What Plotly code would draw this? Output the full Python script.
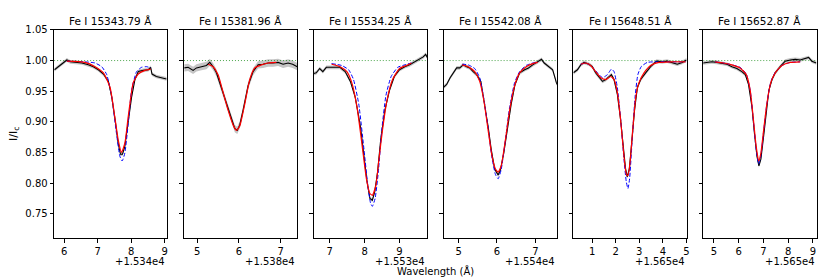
import plotly.graph_objects as go

# ---------------- data ----------------
titles = ["Fe I 15343.79 Å", "Fe I 15381.96 Å", "Fe I 15534.25 Å",
          "Fe I 15542.08 Å", "Fe I 15648.51 Å", "Fe I 15652.87 Å"]
x_offset = [15340, 15380, 15530, 15540, 15650, 15650]
offset_labels = ["+1.534e4", "+1.538e4", "+1.553e4", "+1.554e4", "+1.565e4", "+1.565e4"]
x_ranges = [[5.70, 9.08], [4.68, 7.40], [6.54, 9.79], [4.61, 7.56], [0.21, 5.01], [4.57, 9.15]]
x_ticks = [[6, 7, 8, 9], [5, 6, 7], [7, 8, 9], [5, 6, 7], [1, 2, 3, 4, 5], [5, 6, 7, 8, 9]]
y_ticks = [0.75, 0.80, 0.85, 0.90, 0.95, 1.00, 1.05]
y_range = [0.71, 1.05]
obs_err = [0.003, 0.006, 0.003, 0.003, 0.003, 0.003]

# observed spectra (relative wavelength, normalized flux)
obs_x1 = [5.71, 5.83, 5.93, 6.08, 6.18, 6.33, 6.53, 6.72, 6.87, 7.02, 7.17, 7.32, 7.42, 7.52, 7.61, 7.68, 7.74, 7.81, 7.91, 8.01, 8.11, 8.21, 8.36, 8.51, 8.58, 8.62, 8.75, 8.90, 9.05]
obs_y1 = [0.985, 0.990, 0.994, 1.001, 0.998, 0.997, 0.996, 0.993, 0.990, 0.985, 0.978, 0.966, 0.940, 0.903, 0.865, 0.847, 0.847, 0.860, 0.903, 0.940, 0.969, 0.982, 0.984, 0.985, 0.989, 0.978, 0.974, 0.972, 0.970]
obs_x2 = [4.69, 4.78, 4.90, 4.98, 5.10, 5.22, 5.30, 5.38, 5.46, 5.58, 5.70, 5.82, 5.90, 5.96, 6.02, 6.10, 6.22, 6.34, 6.46, 6.58, 6.70, 6.82, 6.94, 7.06, 7.18, 7.29, 7.40]
obs_y2 = [0.988, 0.989, 0.984, 0.988, 0.990, 0.992, 0.997, 0.990, 0.980, 0.956, 0.929, 0.905, 0.889, 0.886, 0.895, 0.919, 0.959, 0.982, 0.993, 0.994, 0.996, 0.996, 0.997, 0.994, 0.996, 0.994, 0.990]
obs_x3 = [6.49, 6.61, 6.71, 6.80, 6.90, 7.10, 7.29, 7.44, 7.59, 7.73, 7.88, 7.98, 8.07, 8.15, 8.22, 8.29, 8.37, 8.46, 8.58, 8.71, 8.85, 9.00, 9.15, 9.29, 9.39, 9.49, 9.59, 9.68, 9.75, 9.81]
obs_y3 = [0.978, 0.980, 0.987, 0.982, 0.989, 0.989, 0.989, 0.982, 0.966, 0.940, 0.892, 0.844, 0.802, 0.775, 0.772, 0.786, 0.818, 0.871, 0.919, 0.951, 0.974, 0.985, 0.990, 0.993, 0.996, 0.999, 1.003, 1.006, 1.010, 1.004]
obs_x4 = [4.60, 4.69, 4.78, 4.86, 4.95, 5.03, 5.12, 5.21, 5.29, 5.38, 5.47, 5.58, 5.68, 5.77, 5.85, 5.94, 6.03, 6.09, 6.18, 6.27, 6.37, 6.47, 6.59, 6.72, 6.82, 6.93, 7.06, 7.16, 7.23, 7.36, 7.45, 7.56]
obs_y4 = [0.956, 0.961, 0.972, 0.980, 0.988, 0.988, 0.993, 0.990, 0.988, 0.982, 0.977, 0.966, 0.929, 0.892, 0.855, 0.823, 0.813, 0.821, 0.850, 0.886, 0.929, 0.961, 0.980, 0.985, 0.988, 0.993, 0.998, 1.002, 0.996, 0.990, 0.985, 0.961]
obs_x5 = [0.21, 0.38, 0.52, 0.66, 0.87, 1.01, 1.15, 1.30, 1.44, 1.58, 1.72, 1.82, 1.93, 2.07, 2.21, 2.32, 2.42, 2.49, 2.58, 2.68, 2.80, 2.92, 3.06, 3.27, 3.48, 3.73, 3.97, 4.18, 4.39, 4.61, 4.82, 5.00]
obs_y5 = [0.980, 0.985, 0.993, 0.997, 0.994, 0.990, 0.980, 0.972, 0.966, 0.969, 0.973, 0.977, 0.969, 0.945, 0.903, 0.860, 0.823, 0.810, 0.823, 0.866, 0.919, 0.956, 0.969, 0.980, 0.990, 0.999, 0.998, 0.999, 0.997, 0.994, 0.997, 1.001]
obs_x6 = [4.56, 4.72, 4.92, 5.12, 5.32, 5.53, 5.73, 5.93, 6.13, 6.27, 6.40, 6.54, 6.64, 6.74, 6.82, 6.90, 7.01, 7.12, 7.22, 7.35, 7.48, 7.68, 7.88, 8.09, 8.29, 8.49, 8.69, 8.83, 8.96, 9.14]
obs_y6 = [0.996, 0.997, 0.998, 0.997, 0.996, 0.994, 0.990, 0.987, 0.982, 0.977, 0.961, 0.924, 0.881, 0.844, 0.828, 0.839, 0.876, 0.919, 0.951, 0.969, 0.980, 0.990, 0.999, 1.001, 1.002, 1.001, 1.003, 1.005, 0.999, 0.996]

# best-fit model (red)
fit_x1 = [6.08, 6.62, 6.92, 7.17, 7.37, 7.51, 7.61, 7.71, 7.81, 7.91, 8.06, 8.21, 8.41, 8.58]
fit_y1 = [0.999, 0.997, 0.990, 0.980, 0.956, 0.908, 0.871, 0.850, 0.865, 0.908, 0.964, 0.978, 0.984, 0.986]
fit_x2 = [5.26, 5.38, 5.50, 5.62, 5.74, 5.86, 5.94, 6.02, 6.14, 6.26, 6.38, 6.54, 6.70, 6.90]
fit_y2 = [0.994, 0.990, 0.977, 0.948, 0.919, 0.895, 0.886, 0.893, 0.929, 0.969, 0.988, 0.993, 0.996, 0.997]
fit_x3 = [7.05, 7.29, 7.49, 7.63, 7.78, 7.93, 8.05, 8.15, 8.22, 8.32, 8.41, 8.51, 8.64, 8.80, 9.00, 9.20, 9.34]
fit_y3 = [0.994, 0.990, 0.982, 0.964, 0.924, 0.860, 0.807, 0.783, 0.780, 0.796, 0.839, 0.886, 0.935, 0.969, 0.987, 0.992, 0.996]
fit_x4 = [5.09, 5.25, 5.42, 5.55, 5.66, 5.77, 5.87, 5.96, 6.03, 6.11, 6.22, 6.33, 6.46, 6.59, 6.76, 6.93, 7.06]
fit_y4 = [0.993, 0.990, 0.982, 0.966, 0.934, 0.886, 0.844, 0.823, 0.818, 0.828, 0.871, 0.919, 0.959, 0.980, 0.990, 0.995, 0.997]
fit_x5 = [0.52, 0.73, 0.94, 1.15, 1.37, 1.58, 1.79, 1.93, 2.07, 2.21, 2.35, 2.45, 2.52, 2.61, 2.72, 2.85, 2.99, 3.20, 3.48, 3.83, 4.32, 4.96]
fit_y5 = [0.994, 0.996, 0.992, 0.982, 0.972, 0.969, 0.974, 0.969, 0.948, 0.903, 0.844, 0.815, 0.812, 0.834, 0.886, 0.940, 0.964, 0.980, 0.992, 0.997, 0.998, 0.998]
fit_x6 = [5.05, 5.39, 5.73, 6.06, 6.31, 6.47, 6.60, 6.71, 6.81, 6.90, 7.01, 7.14, 7.30, 7.48, 7.75, 8.09, 8.49]
fit_y6 = [0.998, 0.996, 0.993, 0.988, 0.977, 0.951, 0.903, 0.860, 0.836, 0.849, 0.886, 0.929, 0.964, 0.980, 0.992, 0.997, 0.998]

# alternative model (blue dashed)
alt_x1 = [6.08, 6.62, 6.92, 7.12, 7.27, 7.42, 7.56, 7.66, 7.73, 7.81, 7.91, 8.01, 8.16, 8.31, 8.46, 8.58]
alt_y1 = [0.999, 0.998, 0.996, 0.990, 0.977, 0.940, 0.881, 0.844, 0.836, 0.849, 0.897, 0.951, 0.982, 0.989, 0.990, 0.988]
alt_x2 = []
alt_y2 = []
alt_x3 = [7.05, 7.34, 7.54, 7.68, 7.83, 7.98, 8.09, 8.17, 8.22, 8.30, 8.40, 8.49, 8.61, 8.76, 8.95, 9.15, 9.34]
alt_y3 = [0.995, 0.992, 0.985, 0.969, 0.929, 0.855, 0.796, 0.767, 0.762, 0.775, 0.823, 0.886, 0.943, 0.974, 0.989, 0.993, 0.996]
alt_x4 = [5.09, 5.25, 5.42, 5.55, 5.66, 5.77, 5.87, 5.96, 6.03, 6.11, 6.22, 6.33, 6.46, 6.59, 6.76, 6.93, 7.06]
alt_y4 = [0.994, 0.993, 0.987, 0.972, 0.937, 0.889, 0.841, 0.814, 0.807, 0.822, 0.871, 0.924, 0.964, 0.982, 0.992, 0.996, 0.997]
alt_x5 = [0.52, 0.73, 0.94, 1.23, 1.44, 1.65, 1.82, 1.93, 2.07, 2.21, 2.35, 2.45, 2.52, 2.59, 2.70, 2.82, 2.94, 3.08, 3.34, 3.76, 4.32, 4.96]
alt_y5 = [0.994, 0.996, 0.992, 0.980, 0.972, 0.977, 0.986, 0.982, 0.956, 0.905, 0.839, 0.802, 0.791, 0.807, 0.871, 0.940, 0.977, 0.990, 0.997, 0.998, 0.998, 0.998]
alt_x6 = [5.05, 5.39, 5.73, 6.06, 6.31, 6.47, 6.60, 6.71, 6.81, 6.90, 7.01, 7.14, 7.30, 7.48, 7.75, 8.09, 8.49]
alt_y6 = [0.998, 0.996, 0.993, 0.989, 0.978, 0.951, 0.900, 0.855, 0.831, 0.845, 0.884, 0.929, 0.965, 0.981, 0.992, 0.997, 0.998]

continuum = 1.0

obs_x = [obs_x1, obs_x2, obs_x3, obs_x4, obs_x5, obs_x6]
obs_y = [obs_y1, obs_y2, obs_y3, obs_y4, obs_y5, obs_y6]
fit_x = [fit_x1, fit_x2, fit_x3, fit_x4, fit_x5, fit_x6]
fit_y = [fit_y1, fit_y2, fit_y3, fit_y4, fit_y5, fit_y6]
alt_x = [alt_x1, alt_x2, alt_x3, alt_x4, alt_x5, alt_x6]
alt_y = [alt_y1, alt_y2, alt_y3, alt_y4, alt_y5, alt_y6]

# ---------------- layout geometry ----------------
PAD = 8  # page body margin
W, H = 830 - PAD, 277 - PAD
left0, pw, gap = 54.3 - PAD, 113.7, 16.6
ytop, ybot = 24.3 - PAD, 237.3 - PAD
FONT = "DejaVu Sans"

fig = go.Figure()
layout = dict(
    width=W, height=H, margin=dict(l=0, r=0, t=0, b=0),
    paper_bgcolor="white", plot_bgcolor="white", showlegend=False,
    font=dict(family=FONT, size=10, color="black"),
)
annotations = []

for i in range(6):
    n = i + 1
    xa = "x" if n == 1 else f"x{n}"
    ya = "y" if n == 1 else f"y{n}"
    off = x_offset[i]
    ox = [off + v for v in obs_x[i]]
    err = obs_err[i]
    fig.add_trace(go.Scatter(x=ox, y=[v + err for v in obs_y[i]], mode="lines",
                             line=dict(width=0), xaxis=xa, yaxis=ya, hoverinfo="skip"))
    fig.add_trace(go.Scatter(x=ox, y=[v - err for v in obs_y[i]], mode="lines",
                             line=dict(width=0), fill="tonexty",
                             fillcolor="rgba(150,150,150,0.55)", xaxis=xa, yaxis=ya, hoverinfo="skip"))
    fig.add_trace(go.Scatter(x=[off + x_ranges[i][0], off + x_ranges[i][1]], y=[continuum, continuum],
                             mode="lines", line=dict(color="rgba(0,128,0,0.7)", width=1, dash="1px,2px"),
                             xaxis=xa, yaxis=ya))
    fig.add_trace(go.Scatter(x=ox, y=obs_y[i], mode="lines",
                             line=dict(color="black", width=1.1), xaxis=xa, yaxis=ya))
    if alt_x[i]:
        fig.add_trace(go.Scatter(x=[off + v for v in alt_x[i]], y=alt_y[i], mode="lines",
                                 line=dict(color="blue", width=1, dash="4px,2px", shape="spline", smoothing=0.5),
                                 xaxis=xa, yaxis=ya))
    fig.add_trace(go.Scatter(x=[off + v for v in fit_x[i]], y=fit_y[i], mode="lines",
                             line=dict(color="red", width=1.2, shape="spline", smoothing=0.5),
                             xaxis=xa, yaxis=ya))

    x0 = left0 + i * (pw + gap)
    x1 = x0 + pw
    axis_common = dict(showline=True, mirror=True, linecolor="black", linewidth=1,
                       ticks="outside", ticklen=3.5, tickwidth=0.8, tickcolor="black",
                       showgrid=False, zeroline=False,
                       tickfont=dict(family=FONT, size=10, color="black"))
    layout["xaxis" if n == 1 else f"xaxis{n}"] = dict(
        axis_common, domain=[x0 / W, x1 / W], anchor=ya,
        range=[off + x_ranges[i][0], off + x_ranges[i][1]],
        tickmode="array", tickvals=[off + t for t in x_ticks[i]],
        ticktext=[str(t) for t in x_ticks[i]])
    layout["yaxis" if n == 1 else f"yaxis{n}"] = dict(
        axis_common, domain=[1 - ybot / H, 1 - ytop / H], anchor=xa,
        range=y_range, tickmode="array", tickvals=y_ticks,
        ticktext=[f"{t:.2f}" for t in y_ticks], showticklabels=(n == 1))
    annotations.append(dict(text=titles[i], x=(x0 + x1) / 2 / W, y=1 - (15 - PAD) / H,
                            xref="paper", yref="paper", showarrow=False,
                            xanchor="center", yanchor="middle",
                            font=dict(family=FONT, size=10.5, color="black")))
    annotations.append(dict(text=offset_labels[i], x=x1 / W, y=1 - (261.5 - PAD) / H,
                            xref="paper", yref="paper", showarrow=False,
                            xanchor="right", yanchor="middle",
                            font=dict(family=FONT, size=10, color="black")))

annotations.append(dict(text="Wavelength (Å)", x=(436.7 - PAD) / W, y=1 - (270.5 - PAD) / H,
                        xref="paper", yref="paper", showarrow=False,
                        xanchor="center", yanchor="middle",
                        font=dict(family=FONT, size=10, color="black")))
annotations.append(dict(text="I/I<sub>c</sub>", x=(14 - PAD) / W, y=1 - (130.8 - PAD) / H,
                        xref="paper", yref="paper", showarrow=False, textangle=-90,
                        xanchor="center", yanchor="middle",
                        font=dict(family=FONT, size=11, color="black")))
layout["annotations"] = annotations
fig.update_layout(**layout)
fig.write_html("out.html")
